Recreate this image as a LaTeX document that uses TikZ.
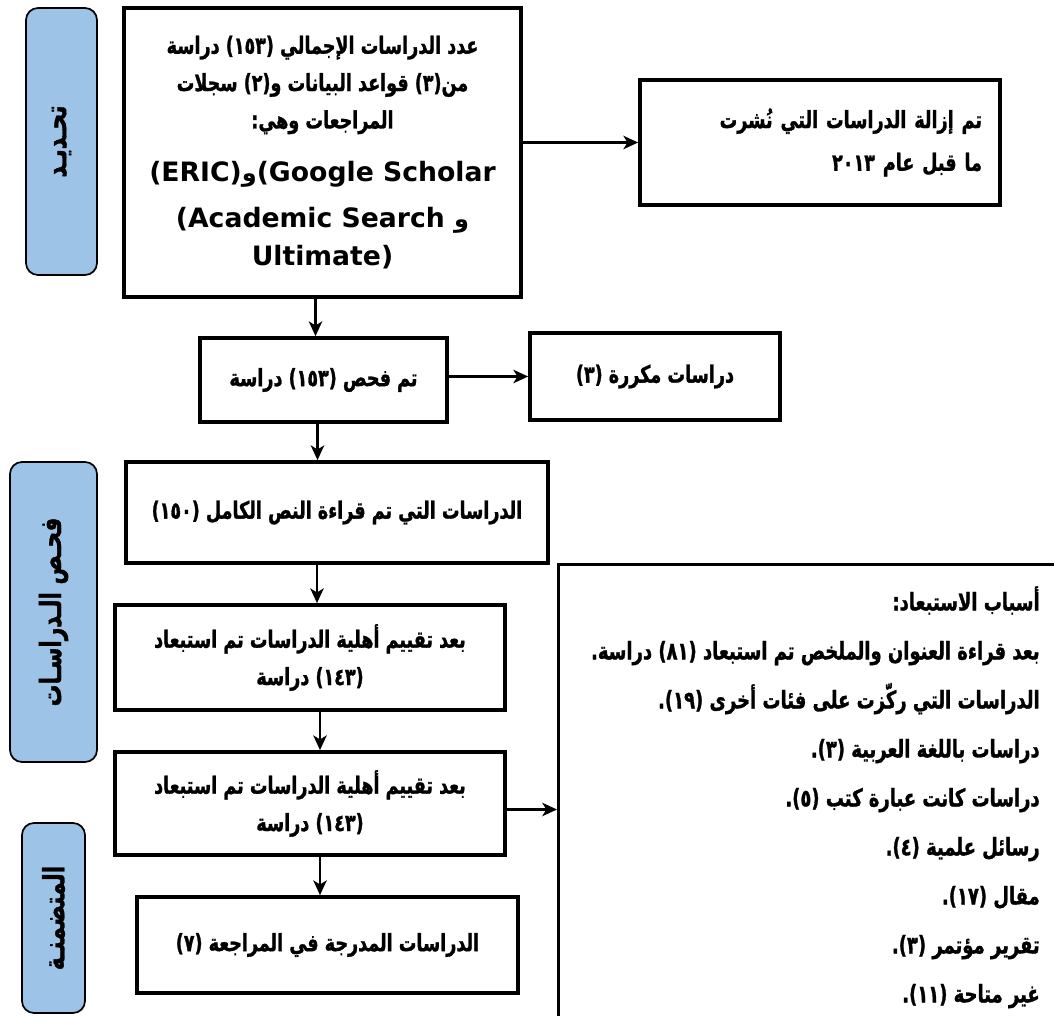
\documentclass[tikz,border=0pt]{standalone}
\usepackage{fontspec}
\setmainfont{DejaVu Sans}
\newfontfamily\arabicfont[Script=Arabic, FakeStretch=0.74, FakeBold=1.2]{DejaVu Sans}
\newfontfamily\arabicplain[Script=Arabic]{DejaVu Sans}
\TeXXeTstate=1
\usetikzlibrary{arrows.meta}
\definecolor{sideblue}{HTML}{9DC3E6}
\newdimen\px \px=0.75pt
\newcommand{\arl}[1]{\beginR #1\endR}
\newcommand{\lat}{\fontsize{20}{24}\selectfont\rmfamily\bfseries}
\tikzset{
  box/.style={draw, line width=2.8pt, rectangle, align=center, inner sep=0pt,
    font=\arabicfont\bfseries\fontsize{17.8}{28}\selectfont},
  sidebox/.style={draw, line width=1.3pt, fill=sideblue, rounded corners=9pt,
    rotate=90, inner sep=0pt, font=\arabicfont\bfseries\fontsize{22}{24}\selectfont},
  arr/.style={line width=2.2pt, -{Stealth[length=11pt,width=10pt,inset=3pt]}},
}
\begin{document}
\begin{tikzpicture}[x=0.75pt,y=-0.75pt]
\useasboundingbox (0,0) rectangle (1054,1016);
\clip (0,0) rectangle (1054,1016);
% side labels
\node[sidebox, minimum width=267\px, minimum height=71\px] (s1) at (61.5,141.5) {\arl{تحـديـد}};
\node[sidebox, minimum width=300\px, minimum height=87\px] (s2) at (53.5,612) {\arl{فحـص الـدراسـات}};
\node[sidebox, minimum width=190\px, minimum height=63\px] (s3) at (53.5,918) {\arl{المتضمنـة}};
% boxes
\node[box, line width=3.6pt, minimum width=397\px, minimum height=289\px] (b1) at (322.5,152.5)
 {\arl{عدد الدراسات الإجمالي (١٥٣) دراسة}\\
  \arl{من(٣) قواعد البيانات و(٢) سجلات}\\
  \arl{المراجعات وهي:}\\[12pt]
  {\lat (ERIC)}{\arabicplain\bfseries\fontsize{18}{20}\selectfont و}{\lat (Google Scholar}\\[6pt]
  {\lat (Academic Search }{\arabicplain\bfseries\fontsize{18}{20}\selectfont و}\\[1pt]
  {\lat Ultimate)}};
\node[box, minimum width=360\px, minimum height=125\px, text width=324\px, align=right,
  font=\arabicfont\bfseries\fontsize{17.8}{32}\selectfont] (b2) at (820,142.5)
 {\arl{تم إزالة الدراسات التي نُشرت}\\ \arl{ما قبل عام ٢٠١٣}};
\node[box, minimum width=247\px, minimum height=84\px] (b3) at (323.5,380) {\arl{تم فحص (١٥٣) دراسة}};
\node[box, minimum width=250\px, minimum height=87\px] (b4) at (655,376.5) {\arl{دراسات مكررة (٣)}};
\node[box, minimum width=422\px, minimum height=101\px] (b5) at (337,512.5) {\arl{الدراسات التي تم قراءة النص الكامل (١٥٠)}};
\node[box, minimum width=390\px, minimum height=105\px] (b6) at (310,657.5)
 {\arl{بعد تقييم أهلية الدراسات تم استبعاد}\\ \arl{(١٤٣) دراسة}};
\node[box, minimum width=390\px, minimum height=103\px] (b7) at (310,803.5)
 {\arl{بعد تقييم أهلية الدراسات تم استبعاد}\\ \arl{(١٤٣) دراسة}};
\node[box, minimum width=381\px, minimum height=96\px] (b8) at (327.5,945) {\arl{الدراسات المدرجة في المراجعة (٧)}};
\node[box, line width=2.2pt, anchor=north west, minimum width=520\px, minimum height=480\px] (rb) at (557,563) {};
\node[align=right, anchor=north east, inner sep=0pt, font=\arabicfont\bfseries\fontsize{18.2}{36.75}\selectfont] (rt) at (1040,586)
 {\arl{أسباب الاستبعاد:}\\
  \arl{بعد قراءة العنوان والملخص تم استبعاد (٨١) دراسة.}\\
  \arl{الدراسات التي ركّزت على فئات أخرى (١٩).}\\
  \arl{دراسات باللغة العربية (٣).}\\
  \arl{دراسات كانت عبارة كتب (٥).}\\
  \arl{رسائل علمية (٤).}\\
  \arl{مقال (١٧).}\\
  \arl{تقرير مؤتمر (٣).}\\
  \arl{غير متاحة (١١).}};
% connectors
\draw[arr] (b1.east |- b2.west) -- (b2.west);
\draw[arr] ([xshift=-7\px]b1.south) -- ([xshift=-7\px]b1.south |- b3.north);
\draw[arr] (b3.east |- b4.west) -- (b4.west);
\draw[arr] ([xshift=-6\px]b3.south) -- ([xshift=-6\px]b3.south |- b5.north);
\draw[arr] ([xshift=7\px]b6.north |- b5.south) -- ([xshift=7\px]b6.north);
\draw[arr] ([xshift=10\px]b6.south) -- ([xshift=10\px]b7.north);
\draw[arr] ([xshift=10\px]b7.south) -- ([xshift=10\px]b7.south |- b8.north);
\draw[arr] ([yshift=-6\px]b7.east) -- ([yshift=-6\px]b7.east -| rb.west);
\end{tikzpicture}
\end{document}
